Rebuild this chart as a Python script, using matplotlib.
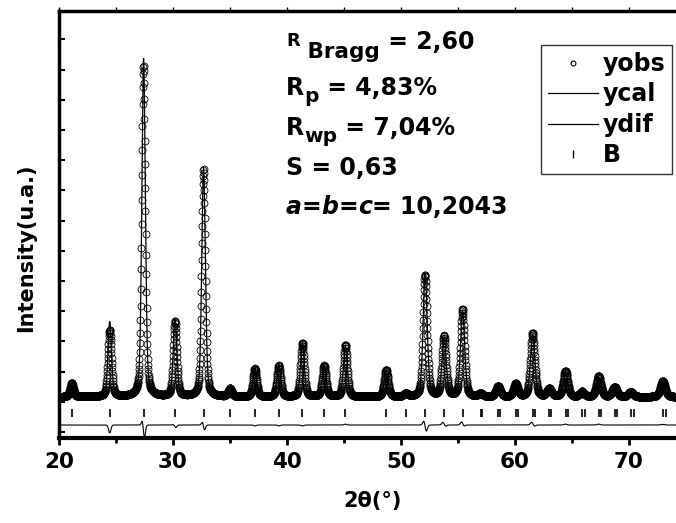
import numpy as np
import matplotlib
matplotlib.use("Agg")
import matplotlib.pyplot as plt
from matplotlib.lines import Line2D

plt.rcParams["font.family"] = ["DejaVu Sans"]
plt.rcParams["font.weight"] = "bold"

## reflexiones: posicion 2theta, altura sobre el fondo, ancho
peak_pos = [21.12, 24.45, 27.42, 30.18, 32.68, 35.00, 37.18, 39.28, 41.35,
            43.26, 45.12, 48.70, 50.42, 52.12, 53.78, 55.40, 56.98, 58.52,
            60.06, 61.55, 63.00, 64.43, 65.88, 67.34, 68.74, 70.15, 72.96]
peak_h = [460, 2480, 11200, 2550, 7580, 265, 960, 1060, 1790,
          1030, 1690, 890, 100, 4070, 1950, 2820, 100, 360,
          430, 2050, 265, 830, 165, 660, 330, 165, 500]
peak_w = [0.36, 0.36, 0.36, 0.37, 0.37, 0.38, 0.38, 0.39, 0.39,
          0.40, 0.40, 0.41, 0.42, 0.42, 0.43, 0.43, 0.44, 0.45,
          0.45, 0.46, 0.46, 0.47, 0.47, 0.48, 0.49, 0.49, 0.51]
## residuos por reflexion (altura y corrimiento)
dif_h = [0, -260, -250, -60, -60, 0, -30, -30, -30,
         0, 30, 0, 0, -60, 40, 60, 0, 0,
         0, 50, 0, 30, 0, 30, 0, 0, 20]
dif_s = [0, 0, 250, 40, 120, 0, 0, 0, 0,
         0, 0, 0, 0, 160, 60, 60, 0, 0,
         0, 60, 0, 0, 0, 0, 0, 0, 0]
## marcas de Bragg K-alfa2
b_a2 = [57.12, 58.68, 60.23, 61.73, 63.19, 64.63, 66.10, 67.57, 68.98, 70.40, 73.22]

fondo = 1160
pos_B = 613
pos_dif = 230

tth = np.arange(20, 75.001, 0.02)

def pvoigt(x, x0, w, eta=0.35):
    g = np.exp(-4 * np.log(2) * ((x - x0) / w) ** 2)
    l = 1 / (1 + 4 * ((x - x0) / w) ** 2)
    return eta * l + (1 - eta) * g

ycal = np.full_like(tth, fondo, dtype=float)
ydif = np.zeros_like(tth)
for x0, h, w, dh, ds in zip(peak_pos, peak_h, peak_w, dif_h, dif_s):
    ycal += h * pvoigt(tth, x0, w)
    u = (tth - x0) / (w * 0.4)
    ydif += dh * np.exp(-u ** 2) + ds * (-u * np.exp(0.5 - u ** 2) * np.sqrt(2))
yobs = ycal + ydif

fig = plt.figure(figsize=(6.76, 5.23), dpi=100)
ax = fig.add_axes([59 / 676, 85 / 523, 627 / 676, 427 / 523])

ax.plot(tth, yobs, "o", ms=5, mfc="none", mec="black", mew=0.6, zorder=2)
ax.plot(tth, ycal, "-", color="black", lw=0.9, zorder=3)
ax.plot(tth, ydif + pos_dif, "-", color="black", lw=0.8, zorder=3)
ax.plot(peak_pos, [pos_B] * len(peak_pos), "|", color="black", ms=6, mew=1.2)
ax.plot(b_a2, [pos_B] * len(b_a2), "|", color="black", ms=6, mew=1.2)

ax.set_xlim(20, 75)
ax.set_ylim(-200, 13940)
ax.set_xticks([20, 30, 40, 50, 60, 70])
ax.set_xticks([25, 35, 45, 55, 65, 75], minor=True)
ax.set_yticks(np.arange(0, 14000, 1000))
ax.set_yticklabels([])
ax.tick_params(axis="x", which="major", direction="out", length=5, width=2,
               labelsize=15.5, pad=5, top=False)
ax.tick_params(axis="x", which="minor", direction="out", length=3.5, width=2, top=False)
ax.tick_params(axis="y", direction="in", length=4, width=1.5, right=False)
for t in ax.get_xticklabels():
    t.set_fontweight("bold")

# marcas superiores
sec = ax.secondary_xaxis("top")
sec.set_xticks(np.arange(20, 76, 5))
sec.set_xticklabels([])
sec.tick_params(direction="out", length=3, width=1)
sec.spines["top"].set_visible(False)

ax.spines["left"].set_linewidth(2.5)
ax.spines["bottom"].set_linewidth(3)
ax.spines["top"].set_linewidth(2.5)

ax.set_xlabel("2θ(°)", fontsize=15, fontweight="bold")
ax.xaxis.set_label_coords(0.5, -0.125)
ax.set_ylabel("Intensity(u.a.)", fontsize=15, fontweight="bold")
ax.yaxis.set_label_coords(-0.036, 0.445)

## texto con los parametros del refinamiento
H = 523
x0 = 286

def pieza(txt, prev, base, size, style="normal"):
    if prev is None:
        return ax.annotate(txt, xy=(x0, H - base), xycoords="figure pixels",
                           fontsize=size, fontweight="bold", fontstyle=style,
                           va="baseline", ha="left")
    return ax.annotate(txt, xy=(1, H - base), xycoords=(prev, "figure pixels"),
                       fontsize=size, fontweight="bold", fontstyle=style,
                       va="baseline", ha="left")

t = pieza("R", None, 46, 13)
t = pieza(" Bragg", t, 58, 15.5)
pieza(" = 2,60", t, 49, 17)

t = pieza("R", None, 95, 17)
t = pieza("p", t, 102, 14.5)
pieza(" = 4,83%", t, 95, 17)

t = pieza("R", None, 135, 17)
t = pieza("wp", t, 142, 14.5)
pieza(" = 7,04%", t, 135, 17)

pieza("S = 0,63", None, 175, 17)

t = pieza("a", None, 214, 17, "italic")
t = pieza("=", t, 214, 17)
t = pieza("b", t, 214, 17, "italic")
t = pieza("=", t, 214, 17)
t = pieza("c", t, 214, 17, "italic")
pieza("= 10,2043", t, 214, 17)

handles = [
    Line2D([], [], ls="none", marker="o", ms=3.5, mfc="none", mec="black", mew=0.8),
    Line2D([], [], color="black", lw=0.9),
    Line2D([], [], color="black", lw=0.9),
    Line2D([], [], ls="none", marker="|", ms=6, color="black", mew=1),
]
leg = ax.legend(handles, ["yobs", "ycal", "ydif", "B"], loc="upper left",
                bbox_to_anchor=(541 / 676, 1 - 45 / 523), bbox_transform=fig.transFigure,
                fancybox=False, framealpha=1, edgecolor="#333333",
                prop={"size": 17, "weight": "bold"}, handlelength=2.1,
                handletextpad=0.2, labelspacing=0.27, borderpad=0.3,
                borderaxespad=0)
leg.get_frame().set_linewidth(1)

fig.savefig("out.png", dpi=100)
